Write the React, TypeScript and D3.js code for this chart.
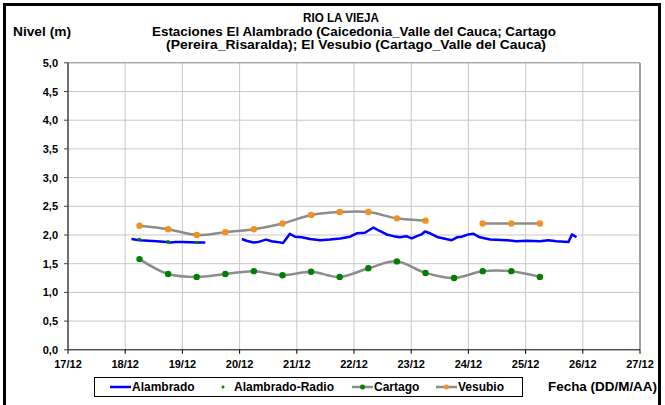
import React from 'react';
import * as d3 from 'd3';

const W = 665;
const H = 405;

const xTickDays = [17, 18, 19, 20, 21, 22, 23, 24, 25, 26, 27];
const xTickLabels = ['17/12', '18/12', '19/12', '20/12', '21/12', '22/12', '23/12', '24/12', '25/12', '26/12', '27/12'];
const yTickValues = [0, 0.5, 1, 1.5, 2, 2.5, 3, 3.5, 4, 4.5, 5];
const yTickLabels = ['0,0', '0,5', '1,0', '1,5', '2,0', '2,5', '3,0', '3,5', '4,0', '4,5', '5,0'];

const titleLines = [
  'RIO LA VIEJA',
  'Estaciones El Alambrado (Caicedonia_Valle del Cauca; Cartago',
  '(Pereira_Risaralda);  El Vesubio (Cartago_Valle del Cauca)',
];

const vesubioDays = [18.25, 18.75, 19.25, 19.75, 20.25, 20.75, 21.25, 21.75, 22.25, 22.75, 23.25, 23.75, 24.25, 24.75, 25.25];
const vesubioValues: (number | null)[] = [2.16, 2.1, 2.0, 2.05, 2.1, 2.2, 2.35, 2.4, 2.4, 2.29, 2.25, null, 2.2, 2.2, 2.2];

const cartagoDays = [18.25, 18.75, 19.25, 19.75, 20.25, 20.75, 21.25, 21.75, 22.25, 22.75, 23.25, 23.75, 24.25, 24.75, 25.25];
const cartagoValues: (number | null)[] = [1.58, 1.32, 1.27, 1.32, 1.37, 1.3, 1.36, 1.27, 1.42, 1.54, 1.34, 1.25, 1.37, 1.37, 1.27];

const radioDays = [18.25, 18.75, 19.25];
const radioValues = [1.92, 1.88, 1.87];

const alambradoDays = [
  18.11, 18.25, 18.4, 18.55, 18.72, 18.8, 18.88, 19.0, 19.25, 19.4,
  19.7,
  20.04, 20.12, 20.24, 20.33, 20.46, 20.56, 20.65, 20.76, 20.88, 20.97,
  21.09, 21.23, 21.41, 21.58, 21.76, 21.93, 22.05, 22.19, 22.34, 22.45,
  22.57, 22.69, 22.8, 22.91, 23.01, 23.1, 23.18, 23.24, 23.33, 23.47,
  23.71, 23.8, 23.88, 24.0, 24.09, 24.2, 24.38, 24.67, 24.84, 25.02,
  25.25, 25.4, 25.54, 25.75, 25.81, 25.89,
];
const alambradoValues: (number | null)[] = [
  1.93, 1.91, 1.9, 1.89, 1.88, 1.87, 1.88, 1.88, 1.87, 1.87,
  null,
  1.93, 1.9, 1.87, 1.88, 1.92, 1.89, 1.88, 1.86, 2.02, 1.97,
  1.96, 1.93, 1.91, 1.92, 1.94, 1.97, 2.03, 2.04, 2.13, 2.07,
  2.01, 1.98, 1.96, 1.98, 1.94, 1.98, 2.01, 2.06, 2.03, 1.96,
  1.91, 1.96, 1.97, 2.01, 2.02, 1.96, 1.92, 1.91, 1.89, 1.9,
  1.89, 1.91, 1.89, 1.88, 2.01, 1.96,
];

const legendLabels = ['Alambrado', 'Alambrado-Radio', 'Cartago', 'Vesubio'];

const FONT = '"Liberation Sans", Arial, sans-serif';
const BLUE = '#0000ff';
const GREY = '#8c8c8c';
const GREEN = '#008000';
const ORANGE = '#f5901e';

export default function App() {
  const x = d3.scaleLinear().domain([17, 27]).range([68, 640]);
  const y = d3.scaleLinear().domain([0, 5]).range([349.8, 62.8]);

  const smooth = d3
    .line<[number, number | null]>()
    .defined((d) => d[1] != null)
    .x((d) => x(d[0]))
    .y((d) => y(d[1] as number))
    .curve(d3.curveCatmullRom.alpha(0.5));

  const straight = d3
    .line<[number, number | null]>()
    .defined((d) => d[1] != null)
    .x((d) => x(d[0]))
    .y((d) => y(d[1] as number));

  const vesubio = vesubioDays.map((d, i) => [d, vesubioValues[i]] as [number, number | null]);
  const cartago = cartagoDays.map((d, i) => [d, cartagoValues[i]] as [number, number | null]);
  const alambrado = alambradoDays.map((d, i) => [d, alambradoValues[i]] as [number, number | null]);

  const [x0, x1] = x.range();
  const [y0, y1] = y.range();

  const titleSpans = [
    [303, 76],
    [152, 404],
    [166, 380],
  ];

  return (
    <svg width={W} height={H} style={{ position: 'absolute', left: 0, top: 0, background: '#fff' }} fontFamily={FONT}>
      <rect x={0} y={0} width={W} height={H} fill="#fff" />
      {/* outer frame */}
      <rect x={4.5} y={4.5} width={655} height={430} fill="none" stroke="#000" strokeWidth={3} />

      {/* title */}
      {titleLines.map((t, i) => (
        <text
          key={i}
          x={titleSpans[i][0]}
          y={22 + i * 13.5}
          fontSize={12}
          fontWeight="bold"
          fill="#000"
          textLength={titleSpans[i][1]}
          lengthAdjust="spacingAndGlyphs"
        >
          {t}
        </text>
      ))}
      <text x={13} y={36} fontSize={12} fontWeight="bold" fill="#000" textLength={58} lengthAdjust="spacingAndGlyphs">
        Nivel (m)
      </text>

      {/* gridlines */}
      {yTickValues.slice(1, -1).map((v) => (
        <line key={'gy' + v} x1={x0} x2={x1} y1={y(v)} y2={y(v)} stroke="#c8c8c8" strokeWidth={1} />
      ))}
      {xTickDays.slice(1, -1).map((d) => (
        <line key={'gx' + d} x1={x(d)} x2={x(d)} y1={y1} y2={y0} stroke="#c8c8c8" strokeWidth={1} />
      ))}
      <line x1={x0} x2={x1} y1={y1} y2={y1} stroke="#808080" strokeWidth={1} />
      <line x1={x1} x2={x1} y1={y1} y2={y0} stroke="#a0a0a0" strokeWidth={2} />

      {/* axes */}
      <line x1={x0} x2={x0} y1={y1} y2={y0} stroke="#404040" strokeWidth={1.5} />
      <line x1={x0} x2={x1} y1={y0} y2={y0} stroke="#000" strokeWidth={1} />
      {yTickValues.map((v, i) => (
        <g key={'yt' + v}>
          <line x1={x0 - 4} x2={x0} y1={y(v)} y2={y(v)} stroke="#404040" strokeWidth={1} />
          <text x={58} y={y(v) + 4} textAnchor="end" fontSize={11} fontWeight="bold" fill="#000">
            {yTickLabels[i]}
          </text>
        </g>
      ))}
      {xTickDays.map((d, i) => (
        <g key={'xt' + d}>
          <line x1={x(d)} x2={x(d)} y1={y0} y2={y0 + 4} stroke="#000" strokeWidth={1} />
          <text x={x(d)} y={368} textAnchor="middle" fontSize={11} fontWeight="bold" fill="#000">
            {xTickLabels[i]}
          </text>
        </g>
      ))}

      {/* series */}
      <path d={smooth(vesubio) || ''} fill="none" stroke={GREY} strokeWidth={2.5} />
      {vesubio.filter((d) => d[1] != null).map((d, i) => (
        <circle key={'v' + i} cx={x(d[0])} cy={y(d[1] as number)} r={3.2} fill={ORANGE} />
      ))}
      <path d={smooth(cartago) || ''} fill="none" stroke={GREY} strokeWidth={2.5} />
      {cartago.filter((d) => d[1] != null).map((d, i) => (
        <circle key={'c' + i} cx={x(d[0])} cy={y(d[1] as number)} r={3.2} fill={GREEN} />
      ))}
      <path d={straight(alambrado) || ''} fill="none" stroke={BLUE} strokeWidth={2.5} strokeLinejoin="round" />
      {radioDays.map((d, i) => (
        <circle key={'r' + i} cx={x(d)} cy={y(radioValues[i])} r={1.8} fill={GREEN} />
      ))}

      {/* legend */}
      <rect x={94.5} y={377.5} width={428} height={19} fill="#fff" stroke="#000" strokeWidth={1} />
      <line x1={110} x2={131} y1={387} y2={387} stroke={BLUE} strokeWidth={2.5} />
      <text x={132} y={391} fontSize={12} fontWeight="bold">{legendLabels[0]}</text>
      <circle cx={223} cy={387} r={1.5} fill={GREEN} />
      <text x={234} y={391} fontSize={12} fontWeight="bold">{legendLabels[1]}</text>
      <line x1={352} x2={373} y1={387} y2={387} stroke={GREY} strokeWidth={2.5} />
      <circle cx={362.5} cy={387} r={2.5} fill={GREEN} />
      <text x={374} y={391} fontSize={12} fontWeight="bold">{legendLabels[2]}</text>
      <line x1={436} x2={457} y1={387} y2={387} stroke={GREY} strokeWidth={2.5} />
      <circle cx={446.5} cy={387} r={2.5} fill={ORANGE} />
      <text x={458} y={391} fontSize={12} fontWeight="bold">{legendLabels[3]}</text>

      <text x={548} y={391} fontSize={12} fontWeight="bold" textLength={109} lengthAdjust="spacingAndGlyphs">
        Fecha (DD/M/AA)
      </text>
    </svg>
  );
}
